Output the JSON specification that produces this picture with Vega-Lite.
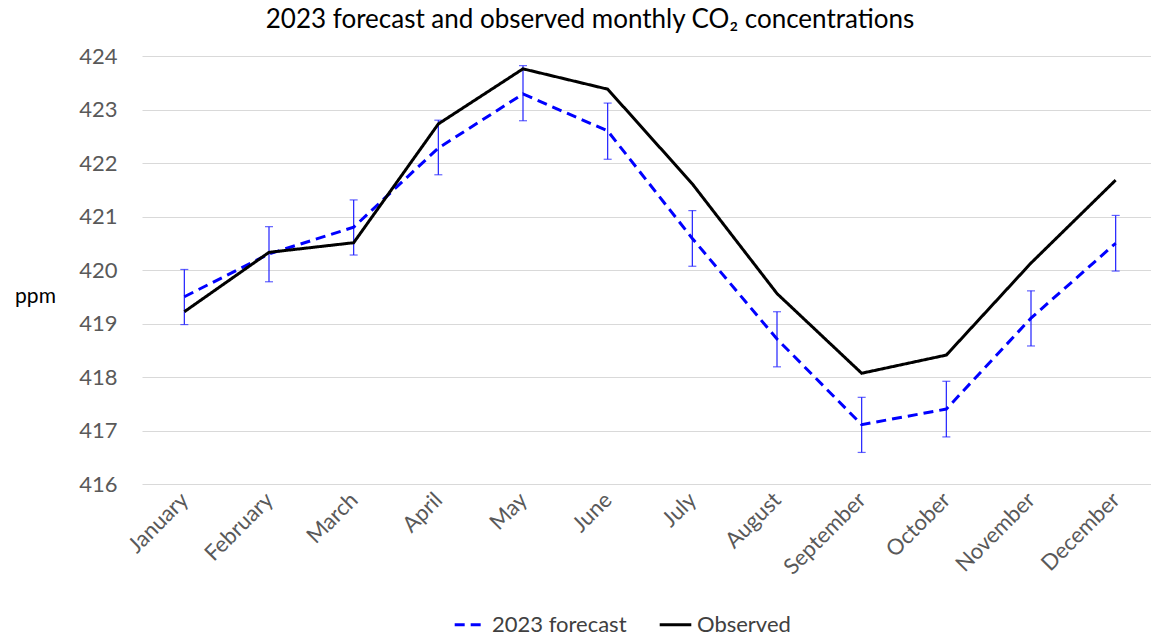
{
  "$schema": "https://vega.github.io/schema/vega-lite/v6.json",
  "autosize": {"type": "none"},
  "width": 1016,
  "height": 428,
  "padding": {"left": 142, "top": 56, "right": 0, "bottom": 154},
  "background": "white",
  "title": {
    "text": "2023 forecast and observed monthly CO₂ concentrations",
    "font": "Lato",
    "fontSize": 26,
    "fontWeight": "normal",
    "color": "black",
    "anchor": "middle",
    "dx": -60,
    "offset": 12
  },
  "config": {
    "view": {"stroke": null},
    "font": "Lato"
  },
  "data": {
    "values": [
      {"month": "January", "series": "2023 forecast", "ppm": 419.5, "lo": 418.98, "hi": 420.01},
      {"month": "February", "series": "2023 forecast", "ppm": 420.3, "lo": 419.78, "hi": 420.81},
      {"month": "March", "series": "2023 forecast", "ppm": 420.8, "lo": 420.28, "hi": 421.31},
      {"month": "April", "series": "2023 forecast", "ppm": 422.28, "lo": 421.78, "hi": 422.8},
      {"month": "May", "series": "2023 forecast", "ppm": 423.29, "lo": 422.79, "hi": 423.82},
      {"month": "June", "series": "2023 forecast", "ppm": 422.6, "lo": 422.07, "hi": 423.12},
      {"month": "July", "series": "2023 forecast", "ppm": 420.59, "lo": 420.07, "hi": 421.11},
      {"month": "August", "series": "2023 forecast", "ppm": 418.71, "lo": 418.19, "hi": 419.22},
      {"month": "September", "series": "2023 forecast", "ppm": 417.11, "lo": 416.59, "hi": 417.62},
      {"month": "October", "series": "2023 forecast", "ppm": 417.4, "lo": 416.88, "hi": 417.92},
      {"month": "November", "series": "2023 forecast", "ppm": 419.1, "lo": 418.58, "hi": 419.61},
      {"month": "December", "series": "2023 forecast", "ppm": 420.5, "lo": 419.98, "hi": 421.02},
      {"month": "January", "series": "Observed", "ppm": 419.22},
      {"month": "February", "series": "Observed", "ppm": 420.33},
      {"month": "March", "series": "Observed", "ppm": 420.51},
      {"month": "April", "series": "Observed", "ppm": 422.73},
      {"month": "May", "series": "Observed", "ppm": 423.76},
      {"month": "June", "series": "Observed", "ppm": 423.38},
      {"month": "July", "series": "Observed", "ppm": 421.61},
      {"month": "August", "series": "Observed", "ppm": 419.56},
      {"month": "September", "series": "Observed", "ppm": 418.07},
      {"month": "October", "series": "Observed", "ppm": 418.41},
      {"month": "November", "series": "Observed", "ppm": 420.13},
      {"month": "December", "series": "Observed", "ppm": 421.68}
    ]
  },
  "encoding": {
    "x": {
      "field": "month",
      "type": "nominal",
      "sort": null,
      "scale": {
        "type": "point",
        "padding": 0.5,
        "domain": ["January", "February", "March", "April", "May", "June", "July", "August", "September", "October", "November", "December"]
      },
      "axis": {
        "title": null,
        "labelAngle": -45,
        "labelAlign": "right",
        "labelBaseline": "middle",
        "labelFontSize": 22,
        "labelColor": "#595959",
        "labelPadding": 12,
        "ticks": false,
        "domain": false,
        "grid": false
      }
    },
    "y": {
      "field": "ppm",
      "type": "quantitative",
      "scale": {"domain": [416, 424], "nice": false, "zero": false},
      "axis": {
        "values": [416, 417, 418, 419, 420, 421, 422, 423, 424],
        "labelFontSize": 22,
        "labelColor": "#595959",
        "labelPadding": 25,
        "ticks": false,
        "domain": false,
        "gridColor": "#d9d9d9",
        "gridWidth": 1,
        "title": "ppm",
        "titleAngle": 0,
        "titleAlign": "center",
        "titleBaseline": "middle",
        "titleX": -107,
        "titleY": 240,
        "titleFontSize": 21,
        "titleFontWeight": "normal",
        "titleColor": "black"
      }
    }
  },
  "layer": [
    {
      "transform": [{"filter": "datum.series == '2023 forecast'"}],
      "mark": {"type": "rule", "color": "#2020ff", "strokeWidth": 1.2},
      "encoding": {
        "y": {"field": "lo", "type": "quantitative"},
        "y2": {"field": "hi"}
      }
    },
    {
      "transform": [{"filter": "datum.series == '2023 forecast'"}],
      "mark": {"type": "tick", "color": "#2020ff", "thickness": 1.2, "size": 8, "orient": "horizontal"},
      "encoding": {
        "y": {"field": "lo", "type": "quantitative"}
      }
    },
    {
      "transform": [{"filter": "datum.series == '2023 forecast'"}],
      "mark": {"type": "tick", "color": "#2020ff", "thickness": 1.2, "size": 8, "orient": "horizontal"},
      "encoding": {
        "y": {"field": "hi", "type": "quantitative"}
      }
    },
    {
      "mark": {"type": "line", "strokeWidth": 3},
      "encoding": {
        "color": {
          "field": "series",
          "type": "nominal",
          "scale": {"domain": ["2023 forecast", "Observed"], "range": ["#0000ff", "#000000"]},
          "legend": {
            "title": null,
            "orient": "none",
            "direction": "horizontal",
            "legendX": 311,
            "legendY": 551,
            "symbolType": "stroke",
            "symbolSize": 1000,
            "symbolStrokeWidth": 3,
            "labelFontSize": 22,
            "labelColor": "#404040",
            "columnPadding": 26,
            "labelOffset": 4
          }
        },
        "strokeDash": {
          "field": "series",
          "type": "nominal",
          "scale": {"domain": ["2023 forecast", "Observed"], "range": [[10, 6], [1, 0]]},
          "legend": {
            "title": null,
            "orient": "none",
            "direction": "horizontal",
            "legendX": 311,
            "legendY": 551,
            "symbolType": "stroke",
            "symbolSize": 1000,
            "symbolStrokeWidth": 3,
            "labelFontSize": 22,
            "labelColor": "#404040",
            "columnPadding": 26,
            "labelOffset": 4
          }
        }
      }
    }
  ]
}
